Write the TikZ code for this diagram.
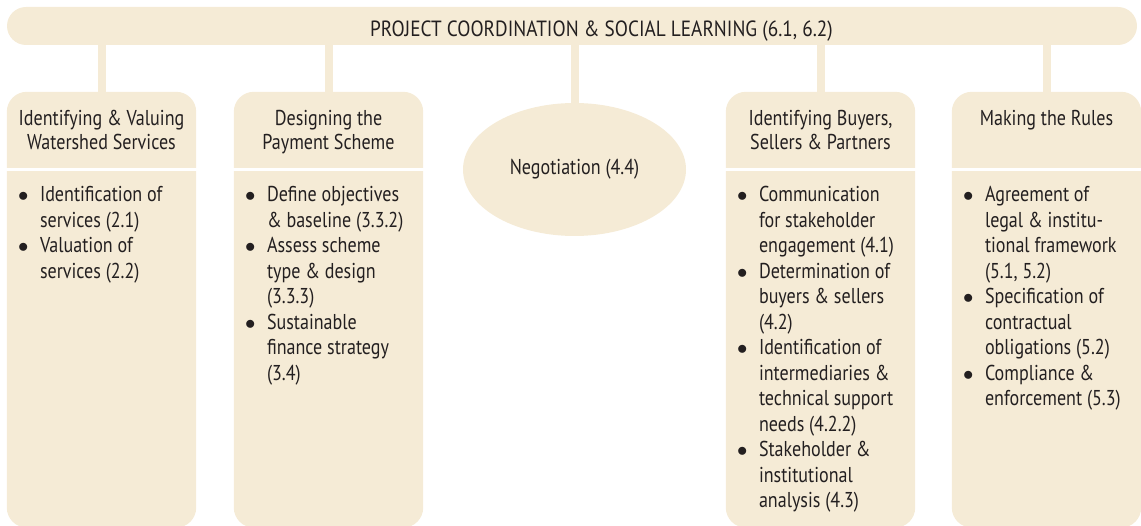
\documentclass[tikz,border=0pt]{standalone}
\usepackage{fontspec}
\setmainfont{PT Sans}[FakeStretch=0.84]
\newfontfamily\titlefont{PT Sans}[FakeStretch=0.875]
\usetikzlibrary{shapes.geometric, positioning}
\definecolor{sand}{HTML}{F5EBD6}
\definecolor{ink}{HTML}{231F20}
\pgfdeclarelayer{bg}
\pgfsetlayers{bg,main}
\newcommand{\blt}{\makebox[22pt][l]{$\bullet$}}
\newcommand{\ind}{\hspace*{22pt}}
\tikzset{
  geo/.style={rectangle, inner sep=0pt, minimum width=189pt},
  headbox/.style={geo, minimum height=75pt},
  bodybox/.style={geo, minimum height=356pt, below=4pt of #1},
  headtext/.style={anchor=north, yshift=-18pt, align=center, inner sep=0pt, text=ink, font=\fontsize{21.5}{24}\selectfont},
  bodytext/.style={anchor=north west, xshift=11pt, yshift=-15pt, align=left, inner sep=0pt, text=ink, font=\fontsize{21.5}{25.5}\selectfont},
  link/.style={draw=sand, line width=8pt},
}
\begin{document}
\begin{tikzpicture}[x=1pt,y=-1pt]
\useasboundingbox (0,0) rectangle (1141,526);
% top bar
\node[fill=sand, rounded corners=19pt, minimum width=1130pt, minimum height=38pt, inner sep=0pt] (pcsl) at (572,26) {};
\node[anchor=base, inner sep=0pt, text=ink, font=\titlefont\fontsize{22}{24}\selectfont] (pcslt) at (601.5,36.5) {PROJECT COORDINATION \& SOCIAL LEARNING (6.1, 6.2)};
% column heads
\node[headbox] (ivws) at (101.5,129.5) {};
\node[headbox] (dtps) at (328.5,129.5) {};
\node[headbox] (ibsp) at (820.5,129.5) {};
\node[headbox] (mtr) at (1046.5,129.5) {};
\node[headtext] (ivwst) at (ivws.north) {Identifying \& Valuing\\Watershed Services};
\node[headtext] (dtpst) at (dtps.north) {Designing the\\Payment Scheme};
\node[headtext] (ibspt) at (ibsp.north) {Identifying Buyers,\\Sellers \& Partners};
\node[headtext] (mtrt) at (mtr.north) {Making the Rules};
% column bodies
\node[bodybox=ivws] (ivwsb) {};
\node[bodybox=dtps] (dtpsb) {};
\node[bodybox=ibsp] (ibspb) {};
\node[bodybox=mtr] (mtrb) {};
\node[bodytext] (ivwsl) at (ivwsb.north west) {\blt Identification of\\ \ind services (2.1)\\ \blt Valuation of\\ \ind services (2.2)};
\node[bodytext] (dtpsl) at (dtpsb.north west) {\blt Define objectives\\ \ind\& baseline (3.3.2)\\ \blt Assess scheme\\ \ind type \& design\\ \ind (3.3.3)\\ \blt Sustainable\\ \ind finance strategy\\ \ind (3.4)};
\node[bodytext] (ibspl) at (ibspb.north west) {\blt Communication\\ \ind for stakeholder\\ \ind engagement (4.1)\\ \blt Determination of\\ \ind buyers \& sellers\\ \ind (4.2)\\ \blt Identification of\\ \ind intermediaries \&\\ \ind technical support\\ \ind needs (4.2.2)\\ \blt Stakeholder \&\\ \ind institutional\\ \ind analysis (4.3)};
\node[bodytext] (mtrl) at (mtrb.north west) {\blt Agreement of\\ \ind legal \& institu-\\ \ind tional framework\\ \ind (5.1, 5.2)\\ \blt Specification of\\ \ind contractual\\ \ind obligations (5.2)\\ \blt Compliance \&\\ \ind enforcement (5.3)};
% negotiation
\node[ellipse, fill=sand, minimum width=223pt, minimum height=133pt, inner sep=0pt, text=ink, font=\fontsize{21.5}{24}\selectfont] (neg) at (574.5,169.5) {Negotiation (4.4)};
\begin{pgfonlayer}{bg}
\foreach \h/\b in {ivws/ivwsb, dtps/dtpsb, ibsp/ibspb, mtr/mtrb}{
  \begin{scope}
    \clip (\h.south west) rectangle (\h.north east);
    \fill[sand, rounded corners=20pt] (\h.north west) rectangle ([yshift=-30pt]\h.south east);
  \end{scope}
  \begin{scope}
    \clip (\b.south west) rectangle (\b.north east);
    \fill[sand, rounded corners=20pt] ([yshift=30pt]\b.north west) rectangle (\b.south east);
  \end{scope}
}
\foreach \n in {ivws, dtps, neg, ibsp, mtr}
  \draw[link] (pcsl.south -| \n.north) -- (\n.north);
\end{pgfonlayer}
\end{tikzpicture}
\end{document}
